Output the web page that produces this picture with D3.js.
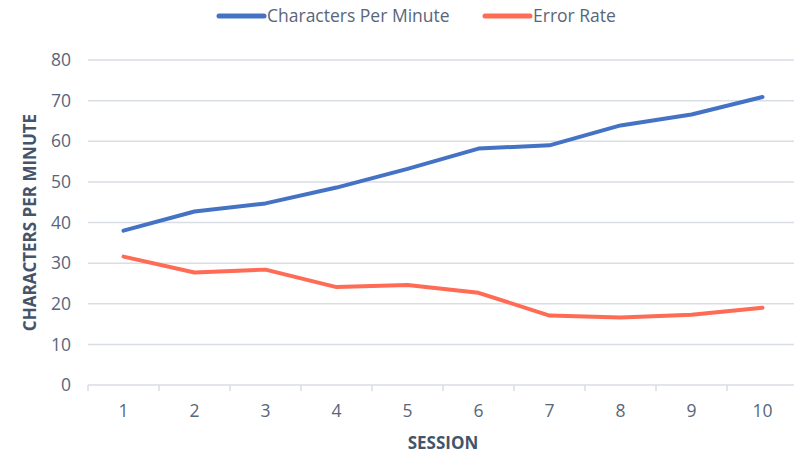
<!DOCTYPE html>
<html>
<head>
<meta charset="utf-8">
<script src="https://cdn.jsdelivr.net/npm/d3@7"></script>
<style>
  body { margin: 0; background: #fff; }
  text { font-family: "Open Sans", "Noto Sans", sans-serif; }
</style>
</head>
<body>
<div id="chart"></div>
<script>
const sessions = [1, 2, 3, 4, 5, 6, 7, 8, 9, 10];
const cpm = [38.0, 42.7, 44.7, 48.6, 53.2, 58.2, 59.0, 63.9, 66.6, 70.9];
const errorRate = [31.6, 27.7, 28.4, 24.1, 24.6, 22.7, 17.1, 16.6, 17.3, 19.0];
const yTicks = [0, 10, 20, 30, 40, 50, 60, 70, 80];

const series = [
  { name: 'Characters Per Minute', values: cpm, color: '#4472c4' },
  { name: 'Error Rate', values: errorRate, color: '#ff6b55' }
];

const width = 794, height = 453;
const margin = { top: 60, right: -4, bottom: 68, left: 88 };

const svg = d3.select('#chart').append('svg')
  .attr('width', width)
  .attr('height', height);

const x = d3.scaleBand()
  .domain(sessions)
  .range([margin.left, width - margin.right]);

const y = d3.scaleLinear()
  .domain([0, 80])
  .range([height - margin.bottom, margin.top]);

// gridlines
svg.append('g')
  .selectAll('line')
  .data(yTicks.filter(d => d > 0))
  .join('line')
  .attr('x1', margin.left)
  .attr('x2', width - margin.right)
  .attr('y1', d => y(d))
  .attr('y2', d => y(d))
  .attr('stroke', '#d9dde6')
  .attr('stroke-width', 1.5);

// y tick labels
svg.append('g')
  .selectAll('text')
  .data(yTicks)
  .join('text')
  .attr('x', 71)
  .attr('y', d => y(d))
  .attr('dy', '0.35em')
  .attr('text-anchor', 'end')
  .attr('font-size', 17.5)
  .attr('fill', '#58667a')
  .text(d => d);

// x axis baseline and tick marks
const xAxis = svg.append('g');
xAxis.append('line')
  .attr('x1', margin.left)
  .attr('x2', width - margin.right)
  .attr('y1', y(0))
  .attr('y2', y(0))
  .attr('stroke', '#d9dde6')
  .attr('stroke-width', 1.5);

xAxis.selectAll('.tick')
  .data(sessions)
  .join('line')
  .attr('class', 'tick')
  .attr('x1', d => x(d))
  .attr('x2', d => x(d))
  .attr('y1', y(0))
  .attr('y2', y(0) + 6)
  .attr('stroke', '#d9dde6')
  .attr('stroke-width', 1.5);

xAxis.selectAll('text')
  .data(sessions)
  .join('text')
  .attr('x', d => x(d) + x.bandwidth() / 2)
  .attr('y', y(0) + 32)
  .attr('text-anchor', 'middle')
  .attr('font-size', 17.5)
  .attr('fill', '#58667a')
  .text(d => d);

// axis titles
svg.append('text')
  .attr('x', 443)
  .attr('y', 449)
  .attr('text-anchor', 'middle')
  .attr('font-size', 17)
  .attr('font-weight', 'bold')
  .attr('fill', '#44546a')
  .text('SESSION');

svg.append('text')
  .attr('transform', 'translate(36,' + (y(40)) + ') rotate(-90)')
  .attr('text-anchor', 'middle')
  .attr('font-size', 17)
  .attr('font-weight', 'bold')
  .attr('fill', '#44546a')
  .text('CHARACTERS PER MINUTE');

// lines
const line = d3.line()
  .x((d, i) => x(sessions[i]) + x.bandwidth() / 2)
  .y(d => y(d));

svg.append('g')
  .selectAll('path')
  .data(series)
  .join('path')
  .attr('d', d => line(d.values))
  .attr('fill', 'none')
  .attr('stroke', d => d.color)
  .attr('stroke-width', 4)
  .attr('stroke-linecap', 'round')
  .attr('stroke-linejoin', 'round');

// legend
const legendX = [219, 485];
const legend = svg.append('g')
  .selectAll('g')
  .data(series)
  .join('g')
  .attr('transform', (d, i) => 'translate(' + legendX[i] + ',16)');

legend.append('line')
  .attr('x1', 0)
  .attr('x2', 45)
  .attr('stroke', d => d.color)
  .attr('stroke-width', 5)
  .attr('stroke-linecap', 'round');

legend.append('text')
  .attr('x', 48)
  .attr('dy', '0.35em')
  .attr('font-size', 17.5)
  .attr('fill', '#58667a')
  .text(d => d.name);
</script>
</body>
</html>
